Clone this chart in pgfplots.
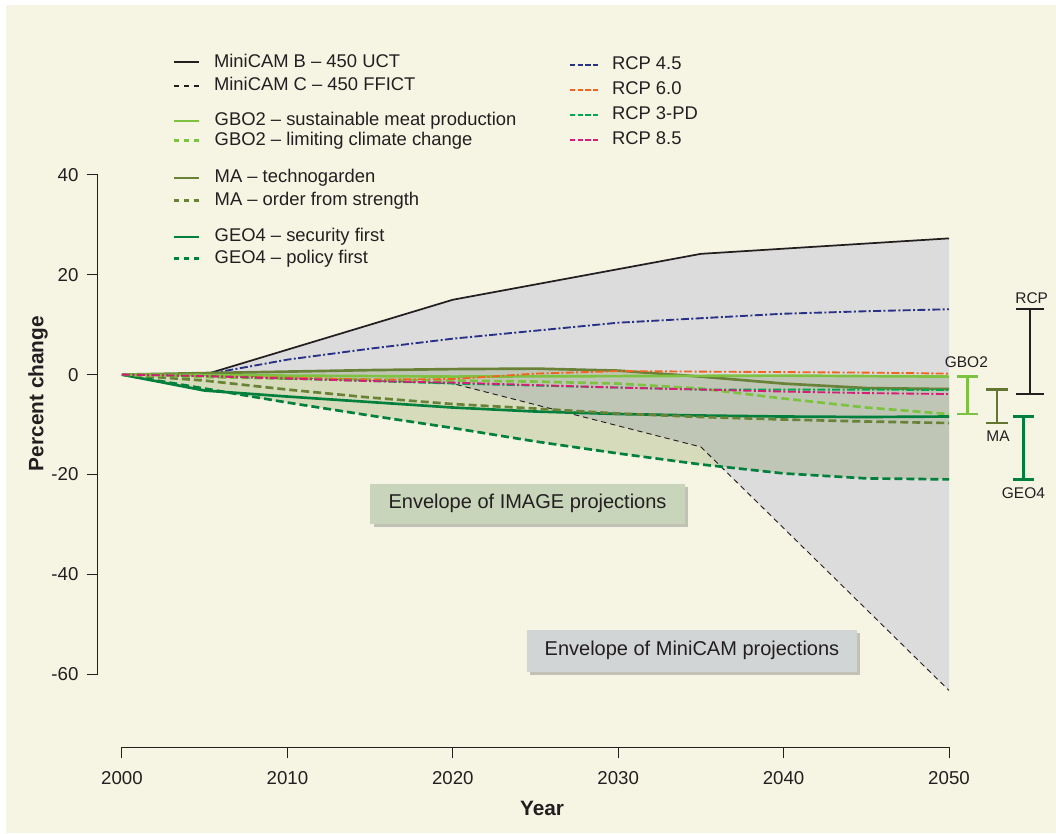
\documentclass[border=0pt]{standalone}
\usepackage{fontspec}
\setmainfont{Liberation Sans}
\usepackage{pgfplots}
\pgfplotsset{compat=1.18}
\usetikzlibrary{shadows}

\definecolor{bgcream}{RGB}{246,245,228}
\definecolor{envgray}{RGB}{220,220,220}
\definecolor{envgreen}{RGB}{222,230,210}
\definecolor{navy}{RGB}{40,48,135}
\definecolor{rcporange}{RGB}{241,101,35}
\definecolor{rcpgreen}{RGB}{0,166,81}
\definecolor{rcpmag}{RGB}{212,30,120}
\definecolor{gbolight}{RGB}{125,195,65}
\definecolor{maolive}{RGB}{105,130,55}
\definecolor{mabar}{RGB}{100,118,50}
\definecolor{geogreen}{RGB}{0,128,60}
\definecolor{boxgreen}{RGB}{200,213,186}
\definecolor{boxgray}{RGB}{210,213,213}
\definecolor{txt}{RGB}{35,31,32}

\tikzset{
 mcB/.style={txt, line width=1.3pt},
 mcC/.style={txt, line width=0.7pt, dash pattern=on 4pt off 3pt},
 gboS/.style={gbolight, line width=2pt},
 gboD/.style={gbolight, line width=2pt, dash pattern=on 6pt off 3pt},
 maS/.style={maolive, line width=2pt},
 maD/.style={maolive, line width=2pt, dash pattern=on 6pt off 3pt},
 geoS/.style={geogreen, line width=2pt},
 geoD/.style={geogreen, line width=2pt, dash pattern=on 6pt off 3pt},
 rcp/.style={line width=1.4pt, dash pattern=on 6pt off 1.8pt on 1.5pt off 1.8pt},
}

\pgfplotsset{
 legaxis/.style={scale only axis, width=620.25pt, height=374.25pt,
   xmin=2000, xmax=2050, ymin=-60, ymax=40, hide axis,
   legend style={anchor=north west, draw=none, fill=none, inner sep=0pt, outer sep=0pt,
     font=\fontsize{13.8}{16.5}\selectfont, text=txt, cells={anchor=base west},
     nodes={inner sep=0pt}}},
}

\begin{document}
\begin{tikzpicture}
\fill[white] (-91.5pt,-119.25pt) rectangle (700.5pt,505.5pt);
\fill[bgcream] (-87pt,-119.25pt) rectangle (700.5pt,501.75pt);

\begin{axis}[
 scale only axis, width=620.25pt, height=374.25pt,
 xmin=2000, xmax=2050, ymin=-60, ymax=40,
 clip=false,
 axis x line=bottom, axis y line=left,
 axis x line shift=54.75pt, axis y line shift=18pt,
 axis line style={line width=0.75pt, color=txt, -},
 xtick={2000,2010,2020,2030,2040,2050},
 xticklabels={2000,2010,2020,2030,2040,2050},
 ytick={-60,-40,-20,0,20,40},
 yticklabels={-60,-40,-20,0,20,40},
 tick align=outside, major tick length=8.5pt,
 tick style={line width=0.75pt, color=txt},
 minor tick num=0,
 tick label style={font=\fontsize{14}{16}\selectfont, text=txt},
 xticklabel style={anchor=north, inner sep=0pt, yshift=-9.5pt},
 yticklabel style={anchor=east, inner sep=0pt, xshift=-6pt},
 xlabel={Year}, ylabel={Percent change},
 every axis x label/.style={at={(rel axis cs:0.508,0)}, anchor=center, yshift=-100.5pt,
   font=\bfseries\fontsize{15.6}{18}\selectfont, text=txt},
 every axis y label/.style={at={(rel axis cs:0,0.562)}, anchor=center, xshift=-63pt, rotate=90,
   font=\bfseries\fontsize{15.6}{18}\selectfont, text=txt},
]

% Envelope of MiniCAM projections
\addplot[fill=envgray, draw=none] coordinates {
 (2005,0) (2020,15) (2035,24.2) (2050,27.3)
 (2050,-63.3) (2035,-14.5) (2020,-1.8) (2005,0)};

% Envelope of IMAGE projections
\addplot[fill=envgreen, draw=none, blend mode=multiply] coordinates {
 (2000,0) (2005,0.3) (2010,0.6) (2015,0.9) (2020,1.1) (2025,1.2) (2030,0.8)
 (2035,-0.3) (2040,-0.2) (2045,-0.3) (2050,-0.4)
 (2050,-21) (2045,-20.8) (2040,-19.8) (2035,-18) (2030,-15.8) (2025,-13.4)
 (2020,-10.7) (2015,-8.2) (2010,-5.6) (2005,-3.2) (2000,0)};

% MiniCAM
\addplot[mcB] coordinates {(2005,0) (2020,15) (2035,24.2) (2050,27.3)};
\addplot[mcC] coordinates {(2005,0) (2020,-1.8) (2035,-14.5) (2050,-63.3)};

% RCP 4.5
\addplot[rcp, navy] coordinates {(2000,0) (2005,0) (2010,3.0) (2015,5.2) (2020,7.2)
 (2025,8.8) (2030,10.4) (2035,11.3) (2040,12.2) (2045,12.7) (2050,13.1)};

% GEO4
\addplot[geoD] coordinates {(2000,0) (2005,-2.8) (2010,-5.6) (2015,-8.2) (2020,-10.7)
 (2025,-13.4) (2030,-15.8) (2035,-18) (2040,-19.8) (2045,-20.8) (2050,-21)};
\addplot[geoS] coordinates {(2000,0) (2005,-3.2) (2010,-4.4) (2015,-5.5) (2020,-6.6)
 (2025,-7.4) (2030,-7.9) (2035,-8.2) (2040,-8.4) (2045,-8.5) (2050,-8.4)};
% MA
\addplot[maD] coordinates {(2000,0) (2005,-1.2) (2010,-3.0) (2015,-4.6) (2020,-5.9)
 (2025,-6.8) (2030,-7.8) (2035,-8.5) (2040,-9.0) (2045,-9.4) (2050,-9.7)};
\addplot[maS] coordinates {(2000,0) (2005,0.3) (2010,0.6) (2015,0.9) (2020,1.1)
 (2025,1.2) (2030,0.8) (2035,-0.4) (2040,-1.8) (2045,-2.7) (2050,-2.9)};
% GBO2
\addplot[gboD] coordinates {(2000,0) (2005,-0.5) (2010,-0.8) (2015,-1.0) (2020,-1.2)
 (2025,-1.4) (2030,-1.8) (2035,-2.8) (2040,-4.8) (2045,-6.6) (2050,-7.9)};
\addplot[gboS] coordinates {(2000,0) (2010,-0.2) (2020,-0.4) (2030,-0.3) (2040,-0.2) (2050,-0.4)};

% other RCPs
\addplot[rcp, rcporange] coordinates {(2000,0) (2005,-0.3) (2010,-0.6) (2015,-1.0) (2020,-0.9)
 (2025,0.2) (2030,0.7) (2035,0.6) (2040,0.5) (2045,0.4) (2050,0.2)};
\addplot[rcp, rcpgreen] coordinates {(2000,0) (2005,-0.3) (2010,-0.8) (2015,-1.3) (2020,-1.8)
 (2025,-2.2) (2030,-2.6) (2035,-3.0) (2040,-3.0) (2045,-3.0) (2050,-3.1)};
\addplot[rcp, rcpmag] coordinates {(2000,0) (2005,-0.3) (2010,-0.8) (2015,-1.3) (2020,-1.6)
 (2025,-2.1) (2030,-2.6) (2035,-3.0) (2040,-3.4) (2045,-3.7) (2050,-3.9)};

% range bars
\addplot[gbolight, line width=2.2pt, mark=-, mark size=7.9pt, mark options={solid, line width=2.2pt}]
 coordinates {(2051.1,-0.4) (2051.1,-7.9)};
\addplot[mabar, line width=2.2pt, mark=-, mark size=7.9pt, mark options={solid, line width=2.2pt}]
 coordinates {(2052.9,-2.9) (2052.9,-9.7)};
\addplot[geogreen, line width=2.2pt, mark=-, mark size=7.9pt, mark options={solid, line width=2.2pt}]
 coordinates {(2054.5,-8.4) (2054.5,-21)};
\addplot[txt, line width=1.5pt, mark=-, mark size=10.5pt, mark options={solid, line width=1.5pt}]
 coordinates {(2054.9,13.1) (2054.9,-3.9)};

\node[font=\fontsize{11.6}{13}\selectfont, text=txt] at (axis cs:2051.05,2.4) {GBO2};
\node[font=\fontsize{11.6}{13}\selectfont, text=txt] at (axis cs:2052.96,-12.3) {MA};
\node[font=\fontsize{11.6}{13}\selectfont, text=txt] at (axis cs:2055.0,15.3) {RCP};
\node[font=\fontsize{11.6}{13}\selectfont, text=txt] at (axis cs:2054.5,-23.7) {GEO4};

\node[fill=boxgreen, minimum width=236pt, minimum height=30pt, inner sep=0pt,
  drop shadow={shadow xshift=2.5pt, shadow yshift=-2.5pt, opacity=0.3, fill=black!70},
  font=\fontsize{15}{18}\selectfont, text=txt] at (axis cs:2024.52,-25.85) {Envelope of IMAGE projections};
\node[fill=boxgray, minimum width=247.5pt, minimum height=31.5pt, inner sep=0pt,
  drop shadow={shadow xshift=2.5pt, shadow yshift=-2.5pt, opacity=0.3, fill=black!70},
  font=\fontsize{15}{18}\selectfont, text=txt] at (axis cs:2034.46,-55.31) {Envelope of MiniCAM projections};
\end{axis}

% legends
\begin{axis}[legaxis, legend style={at={(0.0617,1.2467)}, row sep=4.7pt, column sep=10.5pt},
  legend image code/.code={\draw[#1] (0pt,3.6pt) -- (18.75pt,3.6pt);}]
\addlegendimage{mcB, line width=1.5pt}\addlegendentry{\strut MiniCAM B – 450 UCT}
\addlegendimage{mcC, line width=1.5pt, dash pattern=on 3.75pt off 3.75pt}\addlegendentry{\strut MiniCAM C – 450 FFICT}
\end{axis}
\begin{axis}[legaxis, legend style={at={(0.0617,1.1291)}, row sep=1.7pt, column sep=10.5pt},
  legend image code/.code={\draw[#1] (0pt,3.6pt) -- (18.75pt,3.6pt);}]
\addlegendimage{gboS}\addlegendentry{\strut GBO2 – sustainable meat production}
\addlegendimage{gboD, dash pattern=on 3.75pt off 3.75pt}\addlegendentry{\strut GBO2 – limiting climate change}
\end{axis}
\begin{axis}[legaxis, legend style={at={(0.0617,1.0154)}, row sep=4pt, column sep=10.5pt},
  legend image code/.code={\draw[#1] (0pt,3.6pt) -- (18.75pt,3.6pt);}]
\addlegendimage{maS}\addlegendentry{\strut MA – technogarden}
\addlegendimage{maD, dash pattern=on 3.75pt off 3.75pt}\addlegendentry{\strut MA – order from strength}
\end{axis}
\begin{axis}[legaxis, legend style={at={(0.0617,0.8972)}, row sep=3.2pt, column sep=10.5pt},
  legend image code/.code={\draw[#1] (0pt,3.6pt) -- (18.75pt,3.6pt);}]
\addlegendimage{geoS}\addlegendentry{\strut GEO4 – security first}
\addlegendimage{geoD, dash pattern=on 3.75pt off 3.75pt}\addlegendentry{\strut GEO4 – policy first}
\end{axis}
\begin{axis}[legaxis, legend style={at={(0.5405,1.2413)}, row sep=5.7pt, column sep=9.75pt},
  legend image code/.code={\draw[#1] (0pt,3.6pt) -- (21pt,3.6pt);}]
\addlegendimage{navy, line width=1.5pt, dash pattern=on 4pt off 1.7pt}\addlegendentry{\strut RCP 4.5}
\addlegendimage{rcporange, line width=1.5pt, dash pattern=on 4pt off 1.7pt}\addlegendentry{\strut RCP 6.0}
\addlegendimage{rcpgreen, line width=1.5pt, dash pattern=on 4pt off 1.7pt}\addlegendentry{\strut RCP 3-PD}
\addlegendimage{rcpmag, line width=1.5pt, dash pattern=on 4pt off 1.7pt}\addlegendentry{\strut RCP 8.5}
\end{axis}
\end{tikzpicture}
\end{document}
